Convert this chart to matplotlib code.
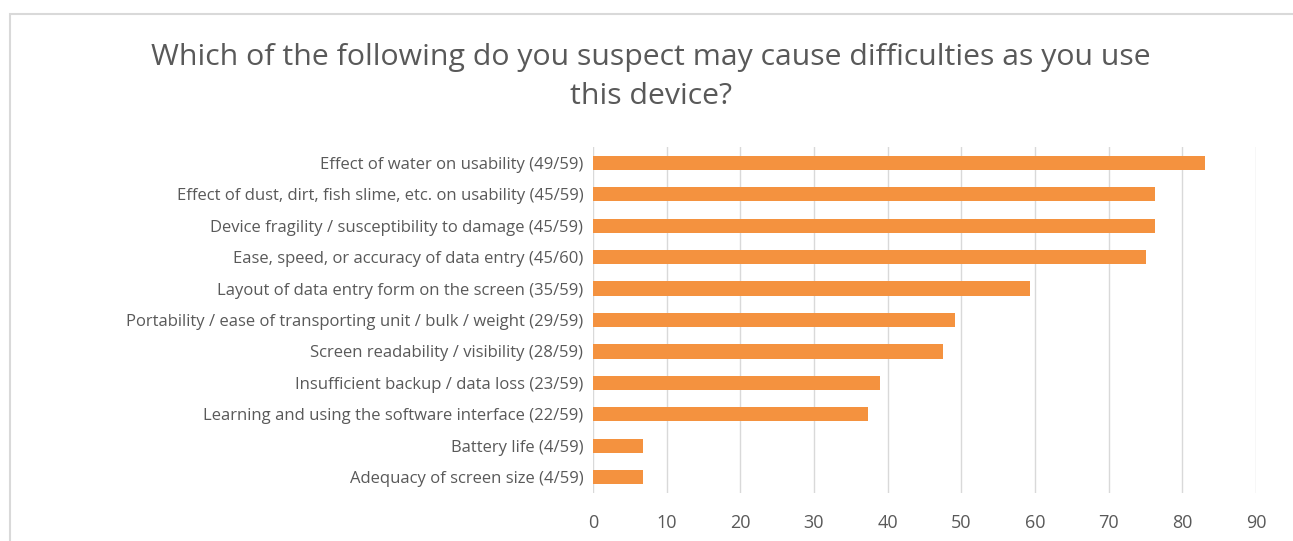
import matplotlib.pyplot as plt
from matplotlib.patches import Rectangle

plt.rcParams['font.family'] = ['Open Sans', 'DejaVu Sans']

labels = [
    'Effect of water on usability (49/59)',
    'Effect of dust, dirt, fish slime, etc. on usability (45/59)',
    'Device fragility / susceptibility to damage (45/59)',
    'Ease, speed, or accuracy of data entry (45/60)',
    'Layout of data entry form on the screen (35/59)',
    'Portability / ease of transporting unit / bulk / weight (29/59)',
    'Screen readability / visibility (28/59)',
    'Insufficient backup / data loss (23/59)',
    'Learning and using the software interface (22/59)',
    'Battery life (4/59)',
    'Adequacy of screen size (4/59)',
]
values = [83.1, 76.3, 76.3, 75.0, 59.3, 49.2, 47.5, 39.0, 37.3, 6.8, 6.8]
xticks = [0, 10, 20, 30, 40, 50, 60, 70, 80, 90]

title = 'Which of the following do you suspect may cause difficulties as you use\nthis device?'
text_color = '#595959'
bar_color = '#f4923f'

fig = plt.figure(figsize=(12.93, 5.41), dpi=100)
fig.patches.append(Rectangle((10 / 1293, -0.05), 1.2, 1 - 14 / 541 + 0.05,
                             transform=fig.transFigure, fill=False,
                             edgecolor='#d9d9d9', linewidth=1.5))

ax = fig.add_axes([593 / 1293, 1 - 493 / 541, (1256 - 593) / 1293, (493 - 147) / 541])
ypos = list(range(len(labels)))[::-1]
ax.barh(ypos, values, height=0.45, color=bar_color, zorder=3)
ax.set_ylim(-0.5, len(labels) - 0.5)
ax.set_xlim(0, 90)
ax.set_xticks(xticks)
ax.set_yticks(ypos)
ax.set_yticklabels(labels)
ax.grid(axis='x', color='#d9d9d9', linewidth=1, zorder=0)
for s in ax.spines.values():
    s.set_visible(False)
ax.tick_params(axis='both', length=0, colors=text_color)
ax.tick_params(axis='y', pad=7, labelsize=12)
ax.tick_params(axis='x', pad=15, labelsize=13)

fig.text(651 / 1293, 1 - 77 / 541, title, ha='center', va='center',
         fontsize=21.8, color=text_color, linespacing=1.5)

fig.savefig('out.png', dpi=100)
